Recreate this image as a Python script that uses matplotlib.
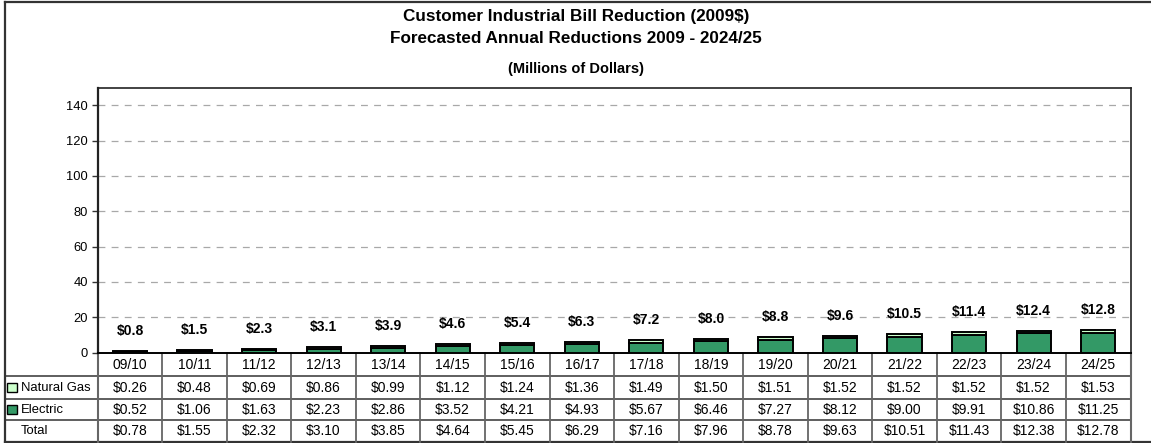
import matplotlib
matplotlib.use("Agg")
import matplotlib.pyplot as plt
from matplotlib.transforms import blended_transform_factory
from matplotlib.patches import Rectangle

plt.rcParams['font.family'] = ['Liberation Sans', 'DejaVu Sans']

# Fiscal years and forecast reductions (millions of 2009 dollars)
years = ["09/10", "10/11", "11/12", "12/13", "13/14", "14/15", "15/16", "16/17",
         "17/18", "18/19", "19/20", "20/21", "21/22", "22/23", "23/24", "24/25"]
natural_gas = [0.26, 0.48, 0.69, 0.86, 0.99, 1.12, 1.24, 1.36,
               1.49, 1.50, 1.51, 1.52, 1.52, 1.52, 1.52, 1.53]
electric = [0.52, 1.06, 1.63, 2.23, 2.86, 3.52, 4.21, 4.93,
            5.67, 6.46, 7.27, 8.12, 9.00, 9.91, 10.86, 11.25]
total = [0.78, 1.55, 2.32, 3.10, 3.85, 4.64, 5.45, 6.29,
         7.16, 7.96, 8.78, 9.63, 10.51, 11.43, 12.38, 12.78]
# rounded totals printed above the bars
total_labels = [0.8, 1.5, 2.3, 3.1, 3.9, 4.6, 5.4, 6.3,
                7.2, 8.0, 8.8, 9.6, 10.5, 11.4, 12.4, 12.8]
y_ticks = [0, 20, 40, 60, 80, 100, 120, 140]

GAS_COLOR = "#CCFFCC"
ELEC_COLOR = "#339966"
W, H = 1151, 443

fig = plt.figure(figsize=(W / 100, H / 100), dpi=100)

# pixel-space overlay for frame, titles and table
ov = fig.add_axes([0, 0, 1, 1], zorder=0)
ov.set_xlim(0, W)
ov.set_ylim(H, 0)
ov.axis("off")

# plot area
x0, x1 = 97.7, 1130.5
y_top, y_zero = 87.5, 352.7
ax = fig.add_axes([x0 / W, (H - y_zero) / H, (x1 - x0) / W, (y_zero - y_top) / H], zorder=2)
ax.patch.set_alpha(0)

xs = list(range(len(years)))
ax.bar(xs, electric, width=0.53, color=ELEC_COLOR, edgecolor="black", linewidth=1.4, zorder=3)
ax.bar(xs, natural_gas, width=0.53, bottom=electric, color=GAS_COLOR, edgecolor="black",
       linewidth=1.4, zorder=3)

for i, (g, e, lab) in enumerate(zip(natural_gas, electric, total_labels)):
    ax.annotate(f"${lab:.1f}", xy=(i, g + e), xytext=(0, 20), textcoords="offset pixels",
                ha="center", va="center", fontsize=10, fontweight="bold", zorder=4)

ax.set_xlim(-0.5, len(years) - 0.5)
ax.set_ylim(0, 150)
ax.set_yticks(y_ticks)
ax.set_yticklabels([str(v) for v in y_ticks], fontsize=9.3)
ax.tick_params(axis="y", direction="out", length=4, width=1, pad=3, color="#333333")
ax.set_xticks([])
for v in y_ticks[1:]:
    ax.axhline(v, color="#A8A8A8", linewidth=0.9, dashes=(5.5, 5), zorder=1)
for s in ["top", "right"]:
    ax.spines[s].set_linewidth(1.2)
    ax.spines[s].set_color("#222222")
ax.spines["left"].set_linewidth(1.6)
ax.spines["left"].set_color("#222222")
ax.spines["bottom"].set_linewidth(1.4)
ax.spines["bottom"].set_color("black")

# titles
ov.text(576, 16, "Customer Industrial Bill Reduction (2009$)", ha="center", va="center",
        fontsize=12.3, fontweight="bold")
ov.text(576, 38, "Forecasted Annual Reductions 2009 - 2024/25", ha="center", va="center",
        fontsize=12.3, fontweight="bold")
ov.text(576, 69, "(Millions of Dollars)", ha="center", va="center",
        fontsize=10.5, fontweight="bold")

# outer frame
frame_kw = dict(color="#333333", linewidth=1.6)
ov.plot([5, 5], [1.5, 441.7], **frame_kw)
ov.plot([5, W + 5], [1.5, 1.5], **frame_kw)
ov.plot([5, W + 5], [441.7, 441.7], **frame_kw)

# data table below the plot, columns aligned with the bar positions
tr = blended_transform_factory(ax.transData, ov.transData)
row_lines = [352.7, 375.8, 398.5, 420.3, 441.7]
row_centers = [(row_lines[k] + row_lines[k + 1]) / 2 for k in range(4)]
for y in row_lines[1:4]:
    ov.plot([5, x1], [y, y], color="#333333", linewidth=1.1)
for i in range(len(years) + 1):
    ax_x = i - 0.5
    ov.plot([ax_x, ax_x], [row_lines[0], row_lines[-1]], color="#666666",
            linewidth=1.3 if 0 < i < len(years) else 1.5, transform=tr)

rows = [years,
        [f"${v:.2f}" for v in natural_gas],
        [f"${v:.2f}" for v in electric],
        [f"${v:.2f}" for v in total]]
for r, vals in enumerate(rows):
    for i, s in enumerate(vals):
        ov.text(i, row_centers[r] + 0.5, s, ha="center", va="center", fontsize=10,
                transform=tr)

labels = ["Natural Gas", "Electric", "Total"]
for k, (lab, col) in enumerate(zip(labels, [GAS_COLOR, ELEC_COLOR, None])):
    yc = row_centers[k + 1]
    if col is not None:
        ov.add_patch(Rectangle((7.5, yc - 4.5), 9.5, 9.5, facecolor=col,
                               edgecolor="black", linewidth=1.0))
    ov.text(21, yc + 0.5, lab, ha="left", va="center", fontsize=9.4)

fig.savefig("out.png", dpi=100)
